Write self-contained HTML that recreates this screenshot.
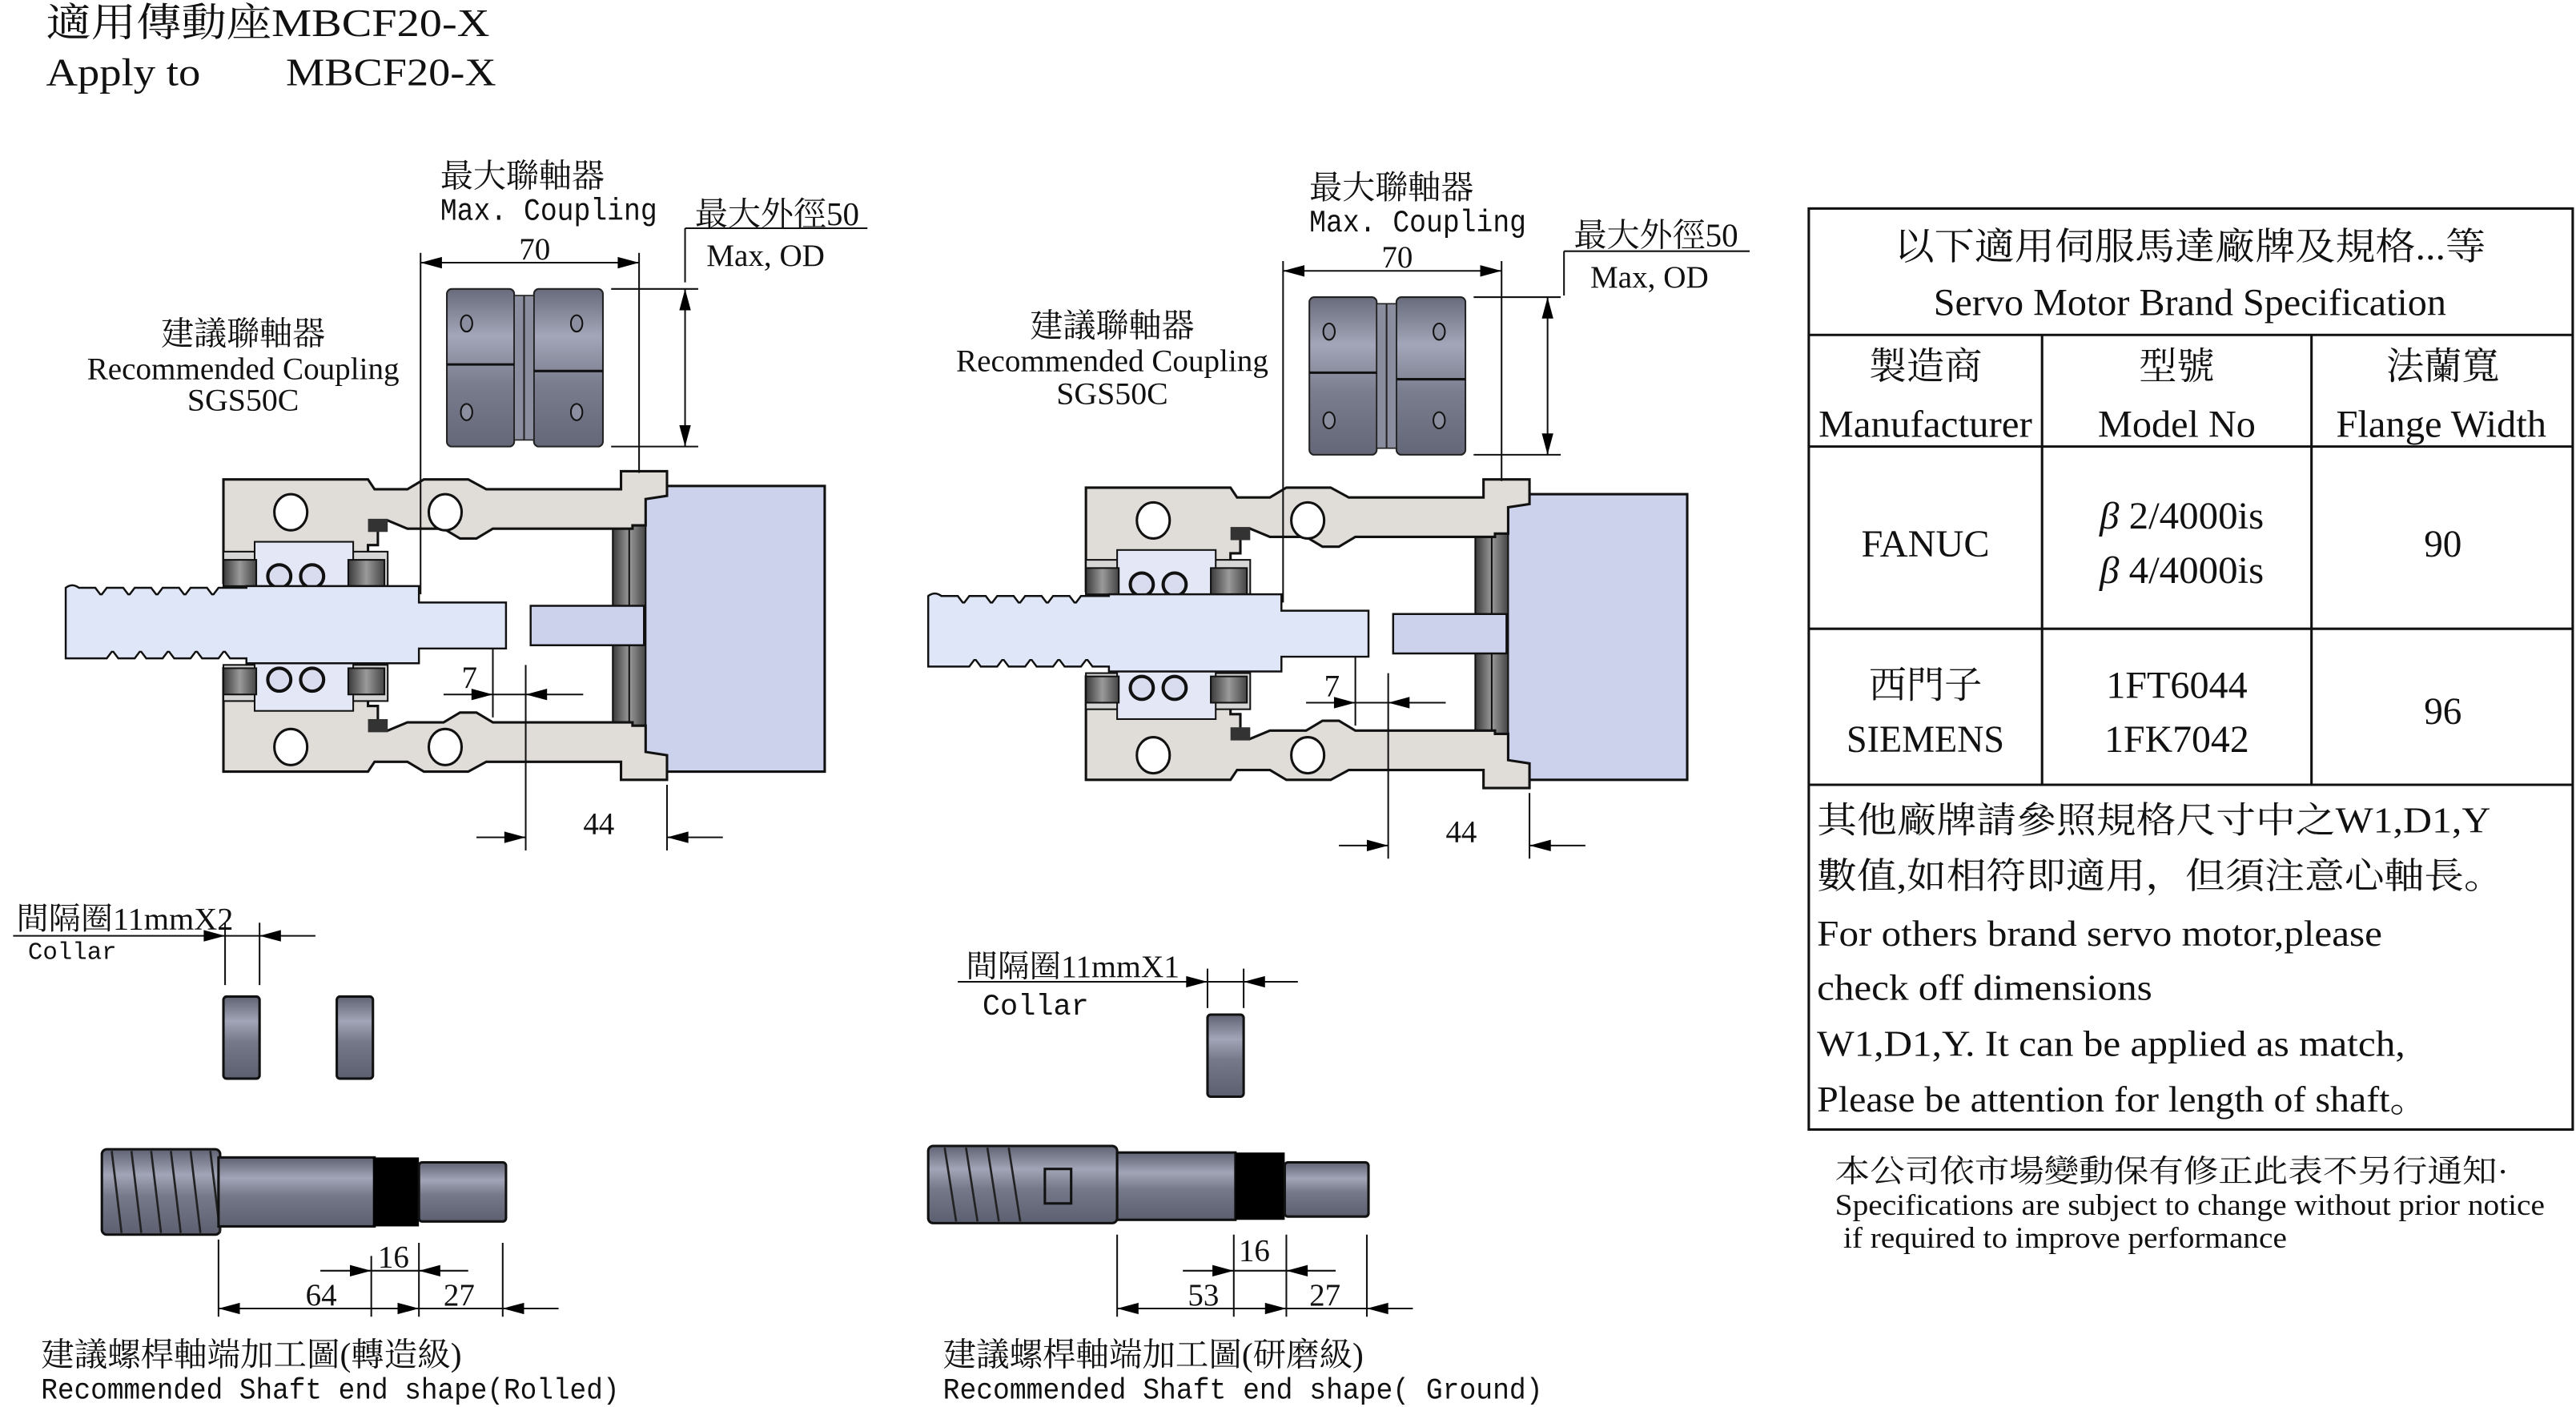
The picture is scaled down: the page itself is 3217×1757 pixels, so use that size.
<!DOCTYPE html>
<html><head><meta charset="utf-8"><style>
html,body{margin:0;padding:0;background:#fff;width:3217px;height:1757px;overflow:hidden}
svg{display:block}
text{font-family:"Liberation Serif","Noto Serif CJK SC","Noto Sans CJK TC",serif;fill:#111}
.m{font-family:"Liberation Mono","Noto Sans CJK TC",monospace}
</style></head><body>
<svg width="3217" height="1757" viewBox="0 0 1568 857" preserveAspectRatio="none" xmlns="http://www.w3.org/2000/svg">
<defs>
<linearGradient id="cg" x1="0" y1="0" x2="0" y2="1"><stop offset="0" stop-color="#686b7c"/><stop offset=".3" stop-color="#a3a6b8"/><stop offset=".6" stop-color="#7a7d8e"/><stop offset="1" stop-color="#646777"/></linearGradient>
<linearGradient id="sg" x1="0" y1="0" x2="0" y2="1"><stop offset="0" stop-color="#5f6272"/><stop offset=".3" stop-color="#a2a5b7"/><stop offset=".55" stop-color="#767989"/><stop offset="1" stop-color="#5c5f6f"/></linearGradient>
<linearGradient id="fg" x1="0" y1="0" x2="1" y2="0"><stop offset="0" stop-color="#3a3a3a"/><stop offset=".5" stop-color="#9a9a9a"/><stop offset="1" stop-color="#444"/></linearGradient>
<g id="asm">
 <rect x="272" y="176" width="41" height="96" rx="3" fill="url(#cg)" stroke="#222" stroke-width="1"/>
 <rect x="325" y="176" width="42" height="96" rx="3" fill="url(#cg)" stroke="#222" stroke-width="1"/>
 <rect x="313" y="180" width="12" height="88" fill="#8a8d9d" stroke="#222" stroke-width=".8"/>
 <line x1="319" y1="180" x2="319" y2="268" stroke="#222"/>
 <path d="M272,222H313M325,226H367" stroke="#111" stroke-width="1.5"/>
 <ellipse cx="284" cy="197" rx="3.5" ry="5" fill="#8b8e9e" stroke="#111"/><ellipse cx="284" cy="251" rx="3.5" ry="5" fill="#8b8e9e" stroke="#111"/>
 <ellipse cx="351" cy="197" rx="3.5" ry="5" fill="#8b8e9e" stroke="#111"/><ellipse cx="351" cy="251" rx="3.5" ry="5" fill="#8b8e9e" stroke="#111"/>
 <rect x="392" y="296" width="110" height="174" fill="#ccd2ec" stroke="#111" stroke-width="1.5"/>
 <rect x="373" y="320" width="20" height="128" fill="url(#fg)" stroke="#111"/>
 <line x1="383" y1="320" x2="383" y2="448" stroke="#111"/>
 <path d="M136,292H224L228,298H248L258,292H285L296,298H378V287H406V302L393,304V320H385V322H300L290,328H280L270,322H248L236,317H230V332H224V348H155V355H136Z" fill="#e0dcd8" stroke="#111" stroke-width="1.5"/>
 <path d="M136,470H224L228,464H248L258,470H285L296,464H378V475H406V460L393,458V442H385V440H300L290,434H280L270,440H248L236,445H230V430H224V414H155V407H136Z" fill="#e0dcd8" stroke="#111" stroke-width="1.5"/>
 <rect x="224" y="316" width="12" height="8" fill="#333"/><rect x="224" y="438" width="12" height="8" fill="#333"/>
 <ellipse cx="177" cy="312" rx="10" ry="11" fill="#fff" stroke="#111" stroke-width="1.5"/>
 <ellipse cx="271" cy="312" rx="10" ry="11" fill="#fff" stroke="#111" stroke-width="1.5"/>
 <ellipse cx="177" cy="455" rx="10" ry="11" fill="#fff" stroke="#111" stroke-width="1.5"/>
 <ellipse cx="271" cy="455" rx="10" ry="11" fill="#fff" stroke="#111" stroke-width="1.5"/>
 <g stroke="#111">
 <rect x="136" y="336" width="100" height="22" fill="#d6d6d6"/>
 <rect x="155" y="330" width="60" height="31" fill="#e4e8f6"/>
 <rect x="136" y="341" width="20" height="16" fill="url(#fg)"/><rect x="212" y="341" width="22" height="16" fill="url(#fg)"/>
 <circle cx="170" cy="351" r="7" fill="#d8dcee" stroke-width="2"/><circle cx="190" cy="351" r="7" fill="#d8dcee" stroke-width="2"/>
 <rect x="136" y="405" width="100" height="22" fill="#d6d6d6"/>
 <rect x="155" y="402" width="60" height="31" fill="#e4e8f6"/>
 <rect x="136" y="407" width="20" height="16" fill="url(#fg)"/><rect x="212" y="407" width="22" height="16" fill="url(#fg)"/>
 <circle cx="170" cy="414" r="7" fill="#d8dcee" stroke-width="2"/><circle cx="190" cy="414" r="7" fill="#d8dcee" stroke-width="2"/>
 </g>
 <path d="M40,358 q4,-3 8,0 h10 l3,4 h1 l3,-4 h10 l3,4 h1 l3,-4 h10 l3,4 h1 l3,-4 h10 l3,4 h1 l3,-4 h10 l3,4 h1 l3,-4 H150 V357 H255 V367 H308 V395 H255 V404 H150 v-3 h-10 l-3,-4 h-1 l-3,4 h-10 l-3,-4 h-1 l-3,4 h-10 l-3,-4 h-1 l-3,4 h-10 l-3,-4 h-1 l-3,4 h-10 l-3,-4 h-1 l-3,4 H40 Z" fill="#dfe6f8" stroke="#111" stroke-width="1.2"/>
 <path d="M323,369H392V393H323Z" fill="#ccd2ec" stroke="#111" stroke-width="1.2"/>
 <g stroke="#111" stroke-width="1" fill="none">
 <line x1="256" y1="154" x2="256" y2="362"/><line x1="389" y1="154" x2="389" y2="288"/>
 <line x1="256" y1="160" x2="389" y2="160"/>
 <line x1="372" y1="176" x2="425" y2="176"/><line x1="372" y1="272" x2="425" y2="272"/>
 <line x1="417" y1="176" x2="417" y2="272"/>
 <line x1="300" y1="395" x2="300" y2="437"/><line x1="320" y1="405" x2="320" y2="518"/>
 <line x1="270" y1="423" x2="355" y2="423"/>
 <line x1="406" y1="478" x2="406" y2="518"/>
 <line x1="290" y1="510" x2="320" y2="510"/><line x1="440" y1="510" x2="406" y2="510"/>
 </g>
 <g fill="#000">
 <path d="M256,160l13,-3.5v7z"/><path d="M389,160l-13,-3.5v7z"/>
 <path d="M417,176l-3.5,13h7z"/><path d="M417,272l-3.5,-13h7z"/>
 <path d="M300,423l-13,-3.5v7z"/><path d="M320,423l13,-3.5v7z"/>
 <path d="M320,510l-13,-3.5v7z"/><path d="M406,510l13,-3.5v7z"/>
 </g>
 <text x="316" y="158" font-size="19">70</text>
 <text x="281" y="419" font-size="19">7</text>
 <text x="355" y="508" font-size="19">44</text>
</g>
<g id="col"><rect x="0" y="0" width="22" height="50" rx="2" fill="url(#sg)" stroke="#111" stroke-width="1.5"/></g>
</defs>

<text x="28" y="22" font-size="24" textLength="270" lengthAdjust="spacingAndGlyphs">適用傳動座MBCF20-X</text>
<text x="28" y="52" font-size="24" textLength="94" lengthAdjust="spacingAndGlyphs">Apply to</text><text x="174" y="52" font-size="24" textLength="128" lengthAdjust="spacingAndGlyphs">MBCF20-X</text>

<use href="#asm"/>
<use href="#asm" transform="translate(525,5)"/>

<text x="268" y="114" font-size="20">最大聯軸器</text>
<text x="268" y="134" font-size="19" class="m" textLength="132" lengthAdjust="spacingAndGlyphs">Max. Coupling</text>
<text x="423" y="137" font-size="20" textLength="100" lengthAdjust="spacingAndGlyphs">最大外徑50</text>
<path d="M417,139H528M417,139V172" stroke="#111" fill="none"/>
<text x="430" y="162" font-size="19" textLength="72" lengthAdjust="spacingAndGlyphs">Max, OD</text>
<text x="148" y="210" font-size="20" text-anchor="middle">建議聯軸器</text>
<text x="148" y="231" font-size="19" text-anchor="middle" textLength="190" lengthAdjust="spacingAndGlyphs">Recommended Coupling</text>
<text x="148" y="250" font-size="19" text-anchor="middle" textLength="68" lengthAdjust="spacingAndGlyphs">SGS50C</text>

<text x="797" y="121" font-size="20">最大聯軸器</text>
<text x="797" y="141" font-size="19" class="m" textLength="132" lengthAdjust="spacingAndGlyphs">Max. Coupling</text>
<text x="958" y="150" font-size="20" textLength="100" lengthAdjust="spacingAndGlyphs">最大外徑50</text>
<path d="M952,153H1065M952,153V180" stroke="#111" fill="none"/>
<text x="968" y="175" font-size="19" textLength="72" lengthAdjust="spacingAndGlyphs">Max, OD</text>
<text x="677" y="205" font-size="20" text-anchor="middle">建議聯軸器</text>
<text x="677" y="226" font-size="19" text-anchor="middle" textLength="190" lengthAdjust="spacingAndGlyphs">Recommended Coupling</text>
<text x="677" y="246" font-size="19" text-anchor="middle" textLength="68" lengthAdjust="spacingAndGlyphs">SGS50C</text>

<text x="10" y="566" font-size="19" textLength="132" lengthAdjust="spacingAndGlyphs">間隔圈11mmX2</text>
<text x="17" y="584" font-size="15" class="m">Collar</text>
<g stroke="#111" fill="none">
<line x1="8" y1="570" x2="192" y2="570"/>
<line x1="137" y1="562" x2="137" y2="600"/><line x1="158" y1="562" x2="158" y2="600"/>
</g>
<g fill="#000"><path d="M137,570l-13,-3.5v7z"/><path d="M158,570l13,-3.5v7z"/></g>
<use href="#col" x="136" y="607"/><use href="#col" x="205" y="607"/>

<rect x="62" y="700" width="72" height="52" rx="3" fill="url(#sg)" stroke="#111" stroke-width="1.5"/>
<g stroke="#222" stroke-width="1.3"><path d="M68,701L74,751M80,701L86,751M92,701L98,751M104,701L110,751M116,701L122,751M128,701L134,751"/></g>
<rect x="133" y="705" width="95" height="42" fill="url(#sg)" stroke="#111" stroke-width="1.5"/>
<rect x="227" y="705" width="28" height="42" fill="#000"/>
<rect x="255" y="708" width="53" height="36" rx="2" fill="url(#sg)" stroke="#111" stroke-width="1.5"/>
<g stroke="#111" fill="none">
<line x1="133" y1="755" x2="133" y2="802"/><line x1="226" y1="765" x2="226" y2="802"/><line x1="255" y1="757" x2="255" y2="802"/><line x1="306" y1="757" x2="306" y2="802"/>
<line x1="195" y1="774" x2="285" y2="774"/>
<line x1="133" y1="797" x2="340" y2="797"/>
</g>
<g fill="#000">
<path d="M226,774l-13,-3.5v7z"/><path d="M255,774l13,-3.5v7z"/>
<path d="M133,797l13,-3.5v7z"/><path d="M255,797l-13,-3.5v7z"/><path d="M306,797l13,-3.5v7z"/>
</g>
<text x="230" y="772" font-size="19">16</text><text x="186" y="795" font-size="19">64</text><text x="270" y="795" font-size="19">27</text>
<text x="25" y="832" font-size="20" textLength="256" lengthAdjust="spacingAndGlyphs">建議螺桿軸端加工圖(轉造級)</text>
<text x="25" y="852" font-size="18" class="m" textLength="352" lengthAdjust="spacingAndGlyphs">Recommended Shaft end shape(Rolled)</text>

<text x="588" y="595" font-size="19" textLength="130" lengthAdjust="spacingAndGlyphs">間隔圈11mmX1</text>
<text x="598" y="618" font-size="18" class="m">Collar</text>
<g stroke="#111" fill="none">
<line x1="583" y1="598" x2="790" y2="598"/>
<line x1="735" y1="590" x2="735" y2="614"/><line x1="757" y1="590" x2="757" y2="614"/>
</g>
<g fill="#000"><path d="M735,598l-13,-3.5v7z"/><path d="M757,598l13,-3.5v7z"/></g>
<use href="#col" x="735" y="618"/>

<rect x="565" y="698" width="115" height="47" rx="3" fill="url(#sg)" stroke="#111" stroke-width="1.5"/>
<g stroke="#222" stroke-width="1.3"><path d="M575,699L582,744M588,699L595,744M601,699L608,744M614,699L621,744"/></g>
<rect x="636" y="712" width="16" height="21" fill="none" stroke="#111" stroke-width="1.5"/>
<rect x="680" y="702" width="72" height="41" fill="url(#sg)" stroke="#111" stroke-width="1.5"/>
<rect x="752" y="702" width="30" height="41" fill="#000"/>
<rect x="782" y="708" width="51" height="33" rx="2" fill="url(#sg)" stroke="#111" stroke-width="1.5"/>
<g stroke="#111" fill="none">
<line x1="680" y1="752" x2="680" y2="802"/><line x1="751" y1="752" x2="751" y2="802"/><line x1="783" y1="752" x2="783" y2="802"/><line x1="832" y1="752" x2="832" y2="802"/>
<line x1="720" y1="774" x2="813" y2="774"/>
<line x1="680" y1="797" x2="860" y2="797"/>
</g>
<g fill="#000">
<path d="M751,774l-13,-3.5v7z"/><path d="M783,774l13,-3.5v7z"/>
<path d="M680,797l13,-3.5v7z"/><path d="M783,797l-13,-3.5v7z"/><path d="M832,797l13,-3.5v7z"/>
</g>
<text x="754" y="768" font-size="19">16</text><text x="723" y="795" font-size="19">53</text><text x="797" y="795" font-size="19">27</text>
<text x="574" y="832" font-size="20" textLength="256" lengthAdjust="spacingAndGlyphs">建議螺桿軸端加工圖(研磨級)</text>
<text x="574" y="852" font-size="18" class="m" textLength="365" lengthAdjust="spacingAndGlyphs">Recommended Shaft end shape( Ground)</text>

<g stroke="#111" stroke-width="1.5" fill="none">
<rect x="1101" y="127" width="465" height="561"/>
<line x1="1101" y1="204" x2="1566" y2="204"/><line x1="1101" y1="272" x2="1566" y2="272"/>
<line x1="1101" y1="383" x2="1566" y2="383"/><line x1="1101" y1="478" x2="1566" y2="478"/>
<line x1="1243" y1="204" x2="1243" y2="478"/><line x1="1407" y1="204" x2="1407" y2="478"/>
</g>
<g font-size="23" text-anchor="middle">
<text x="1333" y="158" textLength="360" lengthAdjust="spacingAndGlyphs">以下適用伺服馬達廠牌及規格...等</text>
<text x="1333" y="192" textLength="312" lengthAdjust="spacingAndGlyphs">Servo Motor Brand Specification</text>
<text x="1172" y="231">製造商</text><text x="1325" y="231">型號</text><text x="1487" y="231">法蘭寬</text>
<text x="1172" y="266" textLength="130" lengthAdjust="spacingAndGlyphs">Manufacturer</text>
<text x="1325" y="266" textLength="96" lengthAdjust="spacingAndGlyphs">Model No</text>
<text x="1486" y="266" textLength="128" lengthAdjust="spacingAndGlyphs">Flange Width</text>
<text x="1172" y="339" textLength="78" lengthAdjust="spacingAndGlyphs">FANUC</text>
<text x="1328" y="322" textLength="100" lengthAdjust="spacingAndGlyphs"><tspan font-style="italic">β</tspan> 2/4000is</text>
<text x="1328" y="355" textLength="100" lengthAdjust="spacingAndGlyphs"><tspan font-style="italic">β</tspan> 4/4000is</text>
<text x="1487" y="339">90</text>
<text x="1172" y="425">西門子</text><text x="1172" y="458" textLength="96" lengthAdjust="spacingAndGlyphs">SIEMENS</text>
<text x="1325" y="425" textLength="86" lengthAdjust="spacingAndGlyphs">1FT6044</text><text x="1325" y="458" textLength="88" lengthAdjust="spacingAndGlyphs">1FK7042</text>
<text x="1487" y="441">96</text>
</g>
<g font-size="22">
<text x="1106" y="507" textLength="410" lengthAdjust="spacingAndGlyphs">其他廠牌請參照規格尺寸中之W1,D1,Y</text>
<text x="1106" y="541" textLength="418" lengthAdjust="spacingAndGlyphs">數值,如相符即適用，但須注意心軸長。</text>
<text x="1106" y="576" textLength="344" lengthAdjust="spacingAndGlyphs">For others brand servo motor,please</text>
<text x="1106" y="609" textLength="204" lengthAdjust="spacingAndGlyphs">check off dimensions</text>
<text x="1106" y="643" textLength="358" lengthAdjust="spacingAndGlyphs">W1,D1,Y. It can be applied as match,</text>
<text x="1106" y="677" textLength="372" lengthAdjust="spacingAndGlyphs">Please be attention for length of shaft。</text>
</g>
<text x="1117" y="720" font-size="19" textLength="410" lengthAdjust="spacingAndGlyphs">本公司依市場變動保有修正此表不另行通知·</text>
<text x="1117" y="740" font-size="18" textLength="432" lengthAdjust="spacingAndGlyphs">Specifications are subject to change without prior notice</text>
<text x="1122" y="760" font-size="18" textLength="270" lengthAdjust="spacingAndGlyphs">if required to improve performance</text>
</svg>
</body></html>
